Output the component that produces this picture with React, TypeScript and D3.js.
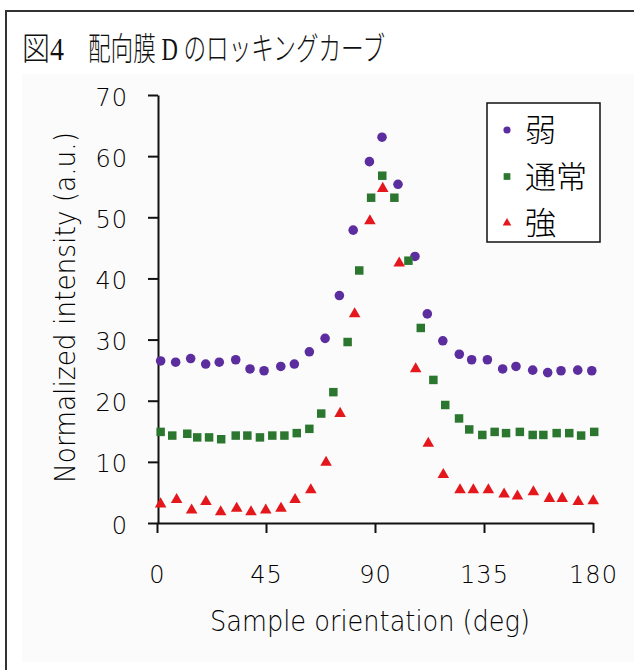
import React, { useEffect, useRef } from 'react';
import * as d3 from 'd3';

// 弱 (purple circles)
const weakX = [1.5, 7.7, 13.9, 20.1, 25.7, 32.5, 38.4, 44.2, 51.1, 56.7, 62.9, 69.4, 75.3, 81.0, 87.7, 92.9, 99.5, 106.5, 111.6, 118.0, 124.8, 129.9, 136.4, 142.7, 148.2, 155.1, 161.3, 166.8, 173.7, 179.5];
const weakY = [26.5, 26.3, 26.9, 26.0, 26.3, 26.7, 25.2, 24.9, 25.6, 26.0, 28.0, 30.2, 37.2, 47.9, 59.1, 63.1, 55.4, 43.6, 34.2, 29.8, 27.6, 26.7, 26.7, 25.2, 25.6, 25.0, 24.6, 24.9, 25.0, 24.9];

// 通常 (green squares)
const normalX = [1.5, 6.3, 12.5, 16.6, 21.5, 26.5, 32.5, 37.3, 42.5, 47.6, 52.6, 57.7, 62.9, 67.8, 72.8, 78.7, 83.5, 88.4, 93.0, 98.0, 103.8, 108.9, 114.1, 119.0, 124.7, 128.9, 134.3, 139.4, 144.1, 149.8, 155.1, 159.5, 165.0, 170.2, 175.1, 180.5];
const normalY = [14.9, 14.3, 14.6, 14.0, 14.0, 13.7, 14.3, 14.3, 14.0, 14.3, 14.3, 14.7, 15.4, 17.9, 21.4, 29.6, 41.3, 53.2, 56.8, 53.2, 42.9, 31.9, 23.4, 19.3, 17.1, 15.3, 14.4, 14.9, 14.7, 14.9, 14.4, 14.4, 14.7, 14.7, 14.3, 14.9];

// 強 (red triangles)
const strongX = [1.5, 8.1, 14.3, 20.2, 26.3, 32.9, 38.8, 44.9, 51.2, 57.0, 63.5, 69.8, 75.6, 81.6, 87.9, 93.2, 100.0, 106.8, 112.0, 118.2, 125.1, 130.6, 136.8, 143.3, 148.8, 155.4, 162.0, 167.3, 173.9, 180.1];
const strongY = [3.1, 3.8, 2.1, 3.5, 1.8, 2.4, 1.8, 2.1, 2.4, 3.8, 5.4, 9.9, 17.9, 34.2, 49.4, 54.7, 42.5, 25.2, 13.0, 7.9, 5.4, 5.4, 5.4, 4.7, 4.4, 5.1, 4.0, 4.0, 3.5, 3.6];

const xTicks = [0, 45, 90, 135, 180];
const yTicks = [0, 10, 20, 30, 40, 50, 60, 70];
const seriesNames = ['弱', '通常', '強'];
const seriesColors = ['#5b2d9e', '#2c772f', '#e3171c'];

const latin = '"DejaVu Sans", sans-serif';
const cjk = '"Noto Sans CJK JP", sans-serif';
const serifFont = '"Liberation Serif", "Noto Sans CJK JP", serif';

export default function App() {
    const ref = useRef<SVGSVGElement>(null);

    useEffect(() => {
        const svg = d3.select(ref.current);
        svg.selectAll('*').remove();

        // background of the figure and its frame
        svg.append('rect').attr('x', 22).attr('y', 74).attr('width', 612).attr('height', 588).attr('fill', '#fbfbfb');
        svg.append('rect')
            .attr('x', 6).attr('y', 11).attr('width', 660).attr('height', 700)
            .attr('fill', 'none').attr('stroke', '#333').attr('stroke-width', 2);

        svg.append('text')
            .attr('x', 22).attr('y', 60)
            .attr('font-family', serifFont)
            .attr('font-size', 32).attr('font-weight', 300)
            .attr('textLength', 42).attr('lengthAdjust', 'spacingAndGlyphs')
            .attr('fill', '#111')
            .text('図4');
        svg.append('text')
            .attr('x', 88).attr('y', 60)
            .attr('font-family', serifFont)
            .attr('font-size', 32).attr('font-weight', 300)
            .attr('textLength', 297).attr('lengthAdjust', 'spacingAndGlyphs')
            .attr('fill', '#111')
            .text('配向膜 D のロッキングカーブ');

        const x = d3.scaleLinear().domain([0, 180]).range([157, 593]);
        const y = d3.scaleLinear().domain([0, 70]).range([523, 95]);

        const xAxis = svg.append('g')
            .attr('transform', 'translate(0,523)')
            .call(d3.axisBottom(x).tickValues(xTicks).tickSize(10).tickSizeOuter(0).tickPadding(33));
        const yAxis = svg.append('g')
            .attr('transform', 'translate(158,0)')
            .call(d3.axisLeft(y).tickValues(yTicks).tickSize(10).tickSizeOuter(0).tickPadding(20));

        [xAxis, yAxis].forEach((g) => {
            g.select('.domain').attr('stroke', '#111').attr('stroke-width', 2);
            g.selectAll('.tick line').attr('stroke', '#111').attr('stroke-width', 2);
            g.selectAll('.tick text')
                .attr('font-family', latin)
                .attr('font-size', 24)
                .attr('font-weight', 200)
                .attr('letter-spacing', 1)
                .attr('fill', '#000');
        });
        yAxis.selectAll('.tick text').attr('dy', '0.42em');

        svg.append('text')
            .attr('x', 210).attr('y', 631)
            .attr('font-family', latin).attr('font-size', 28).attr('font-weight', 200)
            .attr('textLength', 320).attr('lengthAdjust', 'spacingAndGlyphs')
            .attr('fill', '#000')
            .text('Sample orientation (deg)');

        svg.append('text')
            .attr('transform', 'translate(75,483) rotate(-90)')
            .attr('font-family', latin).attr('font-size', 28).attr('font-weight', 200)
            .attr('textLength', 351).attr('lengthAdjust', 'spacingAndGlyphs')
            .attr('fill', '#000')
            .text('Normalized intensity (a.u.)');

        const plot = svg.append('g');
        const circle = d3.symbol().type(d3.symbolCircle).size(72);
        const square = d3.symbol().type(d3.symbolSquare).size(72);
        const triangle = d3.symbol().type(d3.symbolTriangle).size(58);

        plot.selectAll('path.weak')
            .data(weakX)
            .enter().append('path')
            .attr('class', 'weak')
            .attr('d', circle)
            .attr('transform', (d, i) => `translate(${x(d)},${y(weakY[i])})`)
            .attr('fill', seriesColors[0]);

        plot.selectAll('path.normal')
            .data(normalX)
            .enter().append('path')
            .attr('class', 'normal')
            .attr('d', square)
            .attr('transform', (d, i) => `translate(${x(d)},${y(normalY[i])})`)
            .attr('fill', seriesColors[1]);

        plot.selectAll('path.strong')
            .data(strongX)
            .enter().append('path')
            .attr('class', 'strong')
            .attr('d', triangle)
            .attr('transform', (d, i) => `translate(${x(d)},${y(strongY[i])})`)
            .attr('fill', seriesColors[2]);

        // legend
        const legend = svg.append('g');
        legend.append('rect')
            .attr('x', 487).attr('y', 103).attr('width', 113).attr('height', 139)
            .attr('fill', '#fff').attr('stroke', '#111').attr('stroke-width', 1.5);
        const legendSymbols = [
            d3.symbol().type(d3.symbolCircle).size(40),
            d3.symbol().type(d3.symbolSquare).size(45),
            d3.symbol().type(d3.symbolTriangle).size(32),
        ];
        seriesNames.forEach((name, i) => {
            const cy = 130 + i * 46.5;
            legend.append('path')
                .attr('d', legendSymbols[i])
                .attr('transform', `translate(507,${cy})`)
                .attr('fill', seriesColors[i]);
            legend.append('text')
                .attr('x', 525).attr('y', cy + 11)
                .attr('font-family', cjk).attr('font-size', 31).attr('font-weight', 300)
                .attr('fill', '#000')
                .text(name);
        });
    }, []);

    return (
        <svg
            ref={ref}
            width={634}
            height={670}
            style={{ position: 'absolute', left: 0, top: 0, background: '#fff' }}
        />
    );
}
